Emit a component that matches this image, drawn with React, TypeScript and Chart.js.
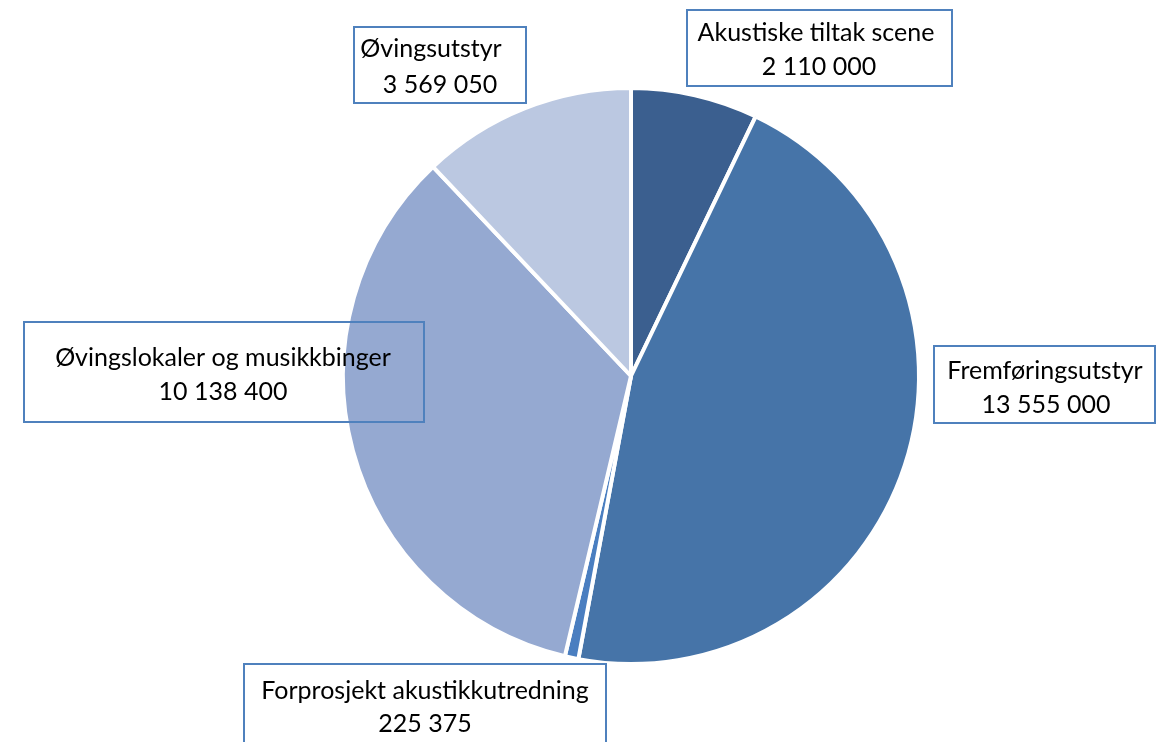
import React, { useEffect, useRef } from "react";
import { Chart, registerables } from "chart.js";

Chart.register(...registerables);

const categories = [
  "Akustiske tiltak scene",
  "Fremføringsutstyr",
  "Forprosjekt akustikkutredning",
  "Øvingslokaler og musikkbinger",
  "Øvingsutstyr",
];
const values = [2110000, 13555000, 225375, 10138400, 3569050];
const valueLabels = ["2 110 000", "13 555 000", "225 375", "10 138 400", "3 569 050"];
const colors = ["#3B5F8F", "#4674A8", "#4A7EC0", "#95A9D1", "#BBC8E1"];

// label box layout [x0, y0, x1, y1] and text centers
const boxes = [
  [687, 10, 952, 86],
  [934, 346, 1155, 423],
  [244, 664, 606, 746],
  [24, 322, 424, 422],
  [354, 27, 526, 103],
];
const textPos = [
  [[816, 33], [819, 67]],
  [[1045, 371], [1046, 405]],
  [[425, 691], [425, 724]],
  [[223, 358], [223, 392]],
  [[431, 49], [440, 85]],
];

const labelPlugin = {
  id: "boxLabels",
  afterDraw(chart: any) {
    const ctx = chart.ctx;
    ctx.save();
    ctx.font = '25px Lato, "Open Sans", sans-serif';
    ctx.textAlign = "center";
    ctx.textBaseline = "middle";
    categories.forEach((c, i) => {
      const b = boxes[i];
      ctx.strokeStyle = "#4F81BD";
      ctx.lineWidth = 2;
      ctx.strokeRect(b[0], b[1], b[2] - b[0], b[3] - b[1]);
      ctx.fillStyle = "#000000";
      ctx.fillText(c, textPos[i][0][0], textPos[i][0][1]);
      ctx.fillText(valueLabels[i], textPos[i][1][0], textPos[i][1][1]);
    });
    ctx.restore();
  },
};

export default function App() {
  const ref = useRef<HTMLCanvasElement>(null);
  useEffect(() => {
    document.body.style.margin = "0";
    const chart = new Chart(ref.current!, {
      type: "pie",
      data: {
        labels: categories,
        datasets: [
          {
            data: values,
            backgroundColor: colors,
            borderColor: "#FFFFFF",
            borderWidth: 4,
          },
        ],
      },
      options: {
        animation: false,
        responsive: false,
        layout: { padding: { top: 86, bottom: 76, left: 341, right: 239 } },
        plugins: { legend: { display: false }, tooltip: { enabled: false } },
      },
      plugins: [labelPlugin],
    });
    return () => chart.destroy();
  }, []);
  return (
    <div style={{ width: 1160, height: 742, background: "#fff" }}>
      <canvas ref={ref} width={1160} height={742} style={{ display: "block" }} />
    </div>
  );
}
